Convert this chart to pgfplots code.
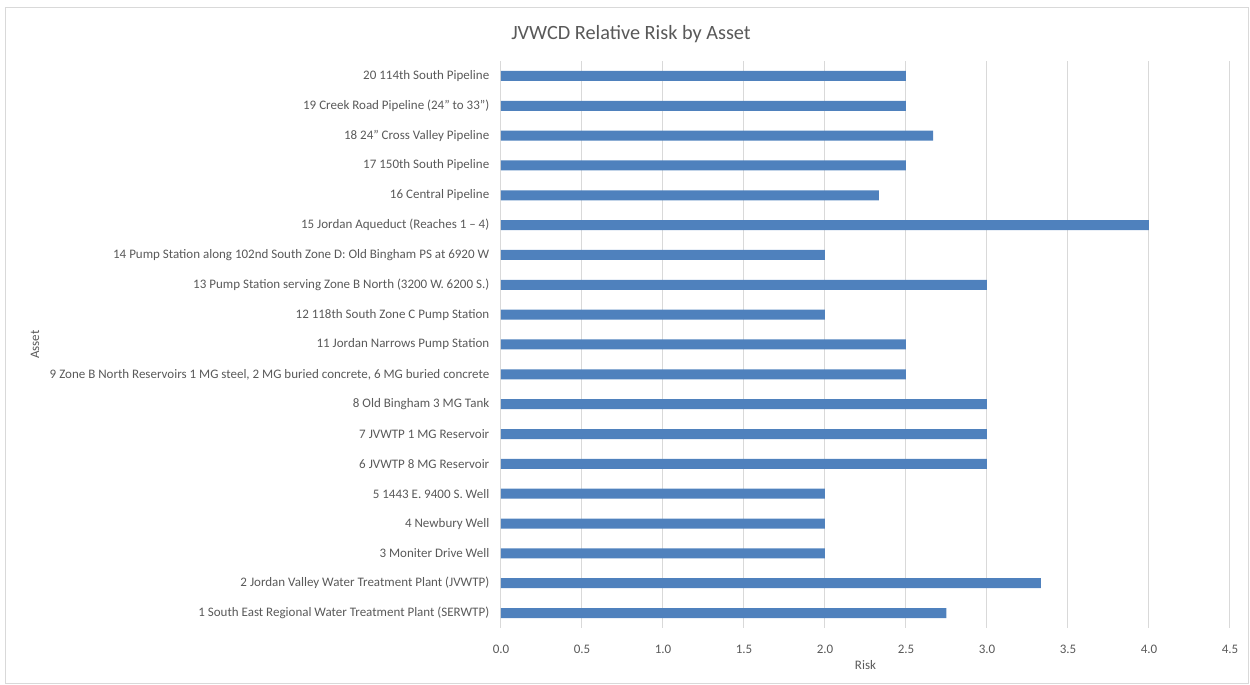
\documentclass[border=0pt]{standalone}
\usepackage{pgfplots}
\pgfplotsset{compat=1.18}
\usepackage{fontspec}
\setmainfont{Carlito}
\definecolor{barblue}{HTML}{4F81BD}
\definecolor{txtgray}{HTML}{595959}
\definecolor{gridgray}{HTML}{D9D9D9}
\begin{document}
\begin{tikzpicture}
\begin{axis}[
  at={(0,0)}, anchor=south west,
  scale only axis,
  width=546.75pt, height=425.25pt,
  xbar, bar width=7.5pt,
  xmin=0, xmax=4.5,
  ymin=-0.5, ymax=18.5,
  xtick={0,0.5,...,4.5},
  ytick={0,...,18},
  yticklabels={
    1 South East Regional Water Treatment Plant (SERWTP),
    2 Jordan Valley Water Treatment Plant (JVWTP),
    3 Moniter Drive Well,
    4 Newbury Well,
    5 1443 E. 9400 S. Well,
    6 JVWTP 8 MG Reservoir,
    7 JVWTP 1 MG Reservoir,
    8 Old Bingham 3 MG Tank,
    {9 Zone B North Reservoirs 1 MG steel, 2 MG buried concrete, 6 MG buried concrete},
    11 Jordan Narrows Pump Station,
    12 118th South Zone C Pump Station,
    13 Pump Station serving Zone B North (3200 W. 6200 S.),
    14 Pump Station along 102nd South Zone D: Old Bingham PS at 6920 W,
    15 Jordan Aqueduct (Reaches 1 – 4),
    16 Central Pipeline,
    17 150th South Pipeline,
    18 24” Cross Valley Pipeline,
    19 Creek Road Pipeline (24” to 33”),
    20 114th South Pipeline},
  xticklabel style={/pgf/number format/fixed, /pgf/number format/fixed zerofill, /pgf/number format/precision=1, yshift=-9pt},
  /pgf/number format/assume math mode=true,
  yticklabel style={xshift=-1pt},
  ticklabel style={font=\fontsize{9.75}{12}\selectfont, text=txtgray},
  axis line style={draw=none},
  tick style={draw=none},
  xmajorgrids,
  major grid style={gridgray, line width=0.75pt},
  xlabel={Risk}, ylabel={Asset},
  label style={font=\fontsize{9.75}{12}\selectfont, text=txtgray},
  xlabel style={at={(axis description cs:0.5,-0.0653)}, anchor=center},
  ylabel style={at={(axis description cs:-0.6392,0.5)}, anchor=center, rotate=0},
]
\addplot[fill=barblue, draw=none] coordinates {
  (2.75,0) (3.333,1) (2,2) (2,3) (2,4) (3,5) (3,6) (3,7) (2.5,8) (2.5,9)
  (2,10) (3,11) (2,12) (4,13) (2.333,14) (2.5,15) (2.667,16) (2.5,17) (2.5,18)
};
\end{axis}
\node[font=\fontsize{15.2}{18}\selectfont, text=txtgray] at (97.5pt,445.5pt) {JVWCD Relative Risk by Asset};
\draw[gridgray, line width=0.75pt] (-371.25pt,-42pt) rectangle (560.25pt,465pt);
\pgfresetboundingbox
\useasboundingbox (-375.75pt,-42.75pt) rectangle (561.75pt,471pt);
\end{tikzpicture}
\end{document}
